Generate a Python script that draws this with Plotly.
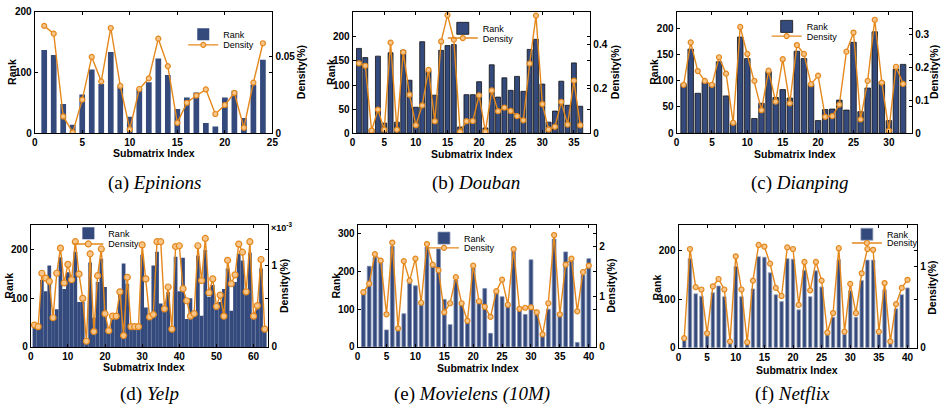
import plotly.graph_objects as go

W, H = 946, 417
BLUE = '#344a7d'
ORANGE = '#e5881c'
FONT = 'Liberation Sans, Arial, sans-serif'
SERIF = 'Liberation Serif, DejaVu Serif, serif'

# ---------------- data ----------------
epinions_rank = [137, 129, 48, 14, 64, 105, 81, 134, 76, 27, 73, 84, 123, 96, 40, 59, 67, 17, 11, 59, 70, 25, 80, 121]
epinions_density = [0.0704, 0.0653, 0.011, 0.0005, 0.022, 0.050, 0.034, 0.069, 0.031, 0.0026, 0.029, 0.036, 0.062,
                    0.044, 0.0068, 0.020, 0.0247, 0.0287, 0.0126, 0.0185, 0.0264, 0.0036, 0.0332, 0.059]

douban_rank = [176, 157, 8, 160, 21, 167, 23, 172, 110, 54, 190, 130, 79, 172, 182, 184, 13, 80, 80, 107, 11, 142,
               75, 115, 89, 118, 87, 174, 195, 102, 23, 46, 108, 58, 146, 56]
douban_density = [0.314, 0.303, 0.012, 0.106, 0.016, 0.407, 0.016, 0.364, 0.173, 0.036, 0.125, 0.284, 0.054, 0.412,
                  0.53, 0.42, 0.007, 0.054, 0.055, 0.17, 0.007, 0.192, 0.099, 0.115, 0.1, 0.077, 0.058, 0.313, 0.528,
                  0.131, 0.017, 0.029, 0.141, 0.039, 0.236, 0.036]

dianping_rank = [94, 160, 76, 98, 94, 136, 71, 20, 183, 142, 28, 57, 117, 68, 83, 67, 156, 142, 94, 24, 45, 46, 63,
                 44, 173, 41, 86, 193, 98, 24, 122, 131]
dianping_density = [0.147, 0.276, 0.189, 0.159, 0.147, 0.231, 0.181, 0.032, 0.323, 0.241, 0.159, 0.07, 0.19, 0.096,
                    0.225, 0.091, 0.268, 0.241, 0.149, 0.175, 0.05, 0.052, 0.087, 0.248, 0.306, 0.042, 0.159, 0.345,
                    0.154, 0.008, 0.202, 0.15]

yelp_rank = [41, 41, 137, 114, 167, 59, 77, 184, 119, 153, 139, 195, 92, 92, 10, 173, 60, 133, 181, 123, 35, 59, 59,
             113, 171, 129, 41, 41, 41, 189, 81, 57, 167, 195, 89, 77, 112, 35, 185, 114, 183, 57, 100, 64, 187, 64,
             199, 103, 127, 77, 92, 119, 161, 74, 133, 191, 177, 112, 193, 57, 77, 161, 35]
yelp_density = [0.00027, 0.00025, 0.00091, 0.00085, 0.00081, 0.00036, 0.00091, 0.00122, 0.00079, 0.00102, 0.00083,
                0.00130, 0.00090, 0.00060, 0.00007, 0.00115, 0.00019, 0.00088, 0.00121, 0.00041, 0.00020, 0.00038,
                0.00038, 0.00068, 0.00014, 0.00086, 0.00025, 0.00025, 0.00025, 0.00126, 0.00084, 0.00037, 0.00040,
                0.00130, 0.00130, 0.00047, 0.00074, 0.00022, 0.00124, 0.00125, 0.00072, 0.00057, 0.00038, 0.00041,
                0.00125, 0.00082, 0.00134, 0.00067, 0.00084, 0.00050, 0.00064, 0.00038, 0.00107, 0.00078, 0.00089,
                0.00127, 0.00117, 0.00068, 0.00130, 0.00038, 0.00051, 0.00108, 0.00022]

movielens_rank = [140, 214, 238, 234, 45, 267, 47, 88, 169, 162, 115, 265, 212, 260, 126, 59, 178, 114, 68, 210, 118,
                  155, 36, 143, 133, 109, 253, 100, 86, 231, 97, 29, 100, 286, 86, 252, 228, 12, 191, 234]
movielens_density = [1.09, 1.26, 1.85, 1.72, 0.65, 2.08, 0.37, 1.71, 1.32, 1.76, 0.88, 2.05, 1.64, 1.53, 0.69, 0.87,
                     1.39, 0.87, 0.52, 1.62, 0.91, 0.80, 0.60, 1.11, 1.34, 0.84, 1.95, 0.76, 0.78, 0.79, 0.69, 0.25,
                     0.87, 2.23, 0.65, 1.64, 1.76, 0.71, 1.49, 1.62]

netflix_rank = [17, 183, 111, 106, 25, 113, 127, 105, 10, 167, 105, 8, 121, 187, 186, 154, 109, 95, 183, 182, 78, 159,
                105, 158, 125, 27, 63, 181, 28, 117, 63, 138, 180, 180, 28, 119, 11, 80, 109, 123]
netflix_density = [0.12, 1.22, 0.75, 0.72, 0.18, 0.76, 0.85, 0.72, 0.08, 1.13, 0.72, 0.07, 0.83, 1.27, 1.25, 1.04,
                   0.74, 0.64, 1.24, 1.22, 0.53, 1.06, 0.71, 1.06, 0.83, 0.19, 0.43, 1.23, 0.2, 0.79, 0.43, 0.92,
                   1.22, 1.21, 0.2, 0.80, 0.08, 0.54, 0.74, 0.84]

captions = ['(a) <i>Epinions</i>', '(b) <i>Douban</i>', '(c) <i>Dianping</i>',
            '(d) <i>Yelp</i>', '(e) <i>Movielens (10M)</i>', '(f) <i>Netflix</i>']

# ---------------- panel configuration ----------------
panels = [
    dict(rank=epinions_rank, dens=epinions_density, box=(32, 272, 6, 131), xr=25, xt=[0, 5, 10, 15, 20, 25],
         yr=200, yt=[0, 100, 200], dr=0.0796, dt=[0, 0.05], dtt=['0', '0.05'], bw=0.6, edge=None, ms=5,
         leg=(224, 29, 40), cap=(153, 182), rank_lab=(9, 68), dens_lab=(301, 68), xlab=(152, 151)),
    dict(rank=douban_rank, dens=douban_density, box=(353, 593, 6, 131), xr=37.6, xt=[0, 5, 10, 15, 20, 25, 30, 35],
         yr=252, yt=[0, 50, 100, 150, 200], dr=0.545, dt=[0, 0.2, 0.4], dtt=['0', '0.2', '0.4'], bw=0.78,
         edge='#111111', ms=5, leg=(486, 23, 33), cap=(478, 182), rank_lab=(331, 68), dens_lab=(618, 68),
         xlab=(473, 152)),
    dict(rank=dianping_rank, dens=dianping_density, box=(680, 918, 6, 131), xr=33.3, xt=[0, 5, 10, 15, 20, 25, 30],
         yr=231, yt=[0, 50, 100, 150, 200], dr=0.369, dt=[0, 0.1, 0.2, 0.3], dtt=['0', '0.1', '0.2', '0.3'],
         bw=0.78, edge='#111111', ms=5, leg=(813, 21, 31), cap=(805, 182), rank_lab=(657, 68), dens_lab=(940, 68),
         xlab=(800, 152)),
    dict(rank=yelp_rank, dens=yelp_density, box=(28, 268, 226, 351), xr=64, xt=[0, 10, 20, 30, 40, 50, 60],
         yr=249, yt=[0, 100, 200], dr=0.0015, dt=[0, 0.001], dtt=['0', '1'], bw=1.0, edge=None, ms=6,
         leg=(108, 234, 245), cap=(148, 399), rank_lab=(6, 288), dens_lab=(283, 288), xlab=(142, 372)),
    dict(rank=movielens_rank, dens=movielens_density, box=(358, 599, 226, 351), xr=41.3,
         xt=[0, 5, 10, 15, 20, 25, 30, 35, 40], yr=322, yt=[0, 100, 200, 300], dr=2.42, dt=[0, 1, 2],
         dtt=['0', '1', '2'], bw=0.66, edge='#7f8db0', ms=5, leg=(467, 239, 249), cap=(473, 399),
         rank_lab=(336, 288), dens_lab=(614, 288), xlab=(480, 373)),
    dict(rank=netflix_rank, dens=netflix_density, box=(682, 923, 226, 352), xr=41.7,
         xt=[0, 5, 10, 15, 20, 25, 30, 35, 40], yr=251, yt=[0, 100, 200], dr=1.51, dt=[0, 1], dtt=['0', '1'],
         bw=0.62, edge='#9aa3b8', ms=5, leg=(894, 235, 244), cap=(797, 399), rank_lab=(660, 290),
         dens_lab=(938, 290), xlab=(802, 375)),
]

fig = go.Figure()
layout = dict(width=W, height=H, margin=dict(l=0, r=0, t=0, b=0), paper_bgcolor='white', plot_bgcolor='white',
              showlegend=True, annotations=[], font=dict(family=FONT, size=10, color='black'))

tickfont = dict(family=FONT, size=10, color='black', weight='bold')
labfont = dict(family=FONT, size=10.5, color='black', weight='bold')
legfont = dict(family=FONT, size=9, color='black')

for k, p in enumerate(panels, start=1):
    x0, x1, y0, y1 = p['box']
    n = len(p['rank'])
    idx = list(range(1, n + 1))
    xa = f'x{k}'
    ya = f'y{k}'
    yb = f'y{k + 6}'
    lg_rank = 'legend' if k == 1 else f'legend{2 * k - 1}'
    lg_dens = f'legend{2 * k}'
    bar_line = dict(width=0) if p['edge'] is None else dict(color=p['edge'], width=0.8)
    fig.add_trace(go.Bar(x=idx, y=p['rank'], width=p['bw'], marker=dict(color=BLUE, line=bar_line),
                         name='Rank', xaxis=xa, yaxis=ya, legend=lg_rank))
    fig.add_trace(go.Scatter(x=idx, y=p['dens'], mode='lines+markers', name='Density', xaxis=xa, yaxis=yb,
                             line=dict(color=ORANGE, width=1.4),
                             marker=dict(symbol='circle', size=p['ms'], color='#f6c58a',
                                         line=dict(color=ORANGE, width=1.2)),
                             legend=lg_dens))
    xd = [x0 / W, x1 / W]
    yd = [1 - y1 / H, 1 - y0 / H]
    layout[f'xaxis{k}'] = dict(domain=xd, anchor=ya, range=[0, p['xr']], tickvals=p['xt'], ticks='inside',
                               ticklen=3, tickcolor='black', showline=True, linecolor='black', linewidth=1,
                               mirror='ticks', showgrid=False, zeroline=False, tickfont=tickfont)
    layout[f'yaxis{k}'] = dict(domain=yd, anchor=xa, range=[0, p['yr']], tickvals=p['yt'], ticks='inside',
                               ticklen=3, tickcolor='black', showline=True, linecolor='black', linewidth=1,
                               mirror='ticks', showgrid=False, zeroline=False, tickfont=tickfont)
    layout[f'yaxis{k + 6}'] = dict(domain=yd, anchor=xa, overlaying=ya, side='right', range=[0, p['dr']],
                                   tickvals=p['dt'], ticktext=p['dtt'], ticks='inside', ticklen=3,
                                   tickcolor='black', showline=True, linecolor='black', linewidth=1,
                                   showgrid=False, zeroline=False, tickfont=tickfont)
    tx, ry_rank, ry_dens = p['leg']
    for lg, yy in ((lg_rank, ry_rank), (lg_dens, ry_dens)):
        layout[lg] = dict(x=(tx - 42) / W, y=1 - yy / H, xanchor='left', yanchor='middle',
                          bgcolor='rgba(0,0,0,0)', borderwidth=0, itemwidth=30, tracegroupgap=0,
                          font=legfont)
    ann = layout['annotations']
    cx, cy = p['cap']
    ann.append(dict(text=captions[k - 1], x=cx / W, y=1 - cy / H, xref='paper', yref='paper', showarrow=False,
                    xanchor='center', yanchor='middle', font=dict(family=SERIF, size=19, color='black')))
    rx, ry = p['rank_lab']
    ann.append(dict(text='Rank', x=rx / W, y=1 - ry / H, xref='paper', yref='paper', showarrow=False,
                    textangle=-90, xanchor='center', yanchor='middle', font=labfont))
    dx, dy = p['dens_lab']
    ann.append(dict(text='Density(%)', x=dx / W, y=1 - dy / H, xref='paper', yref='paper', showarrow=False,
                    textangle=-90, xanchor='center', yanchor='middle', font=labfont))
    sx, sy = p['xlab']
    ann.append(dict(text='Submatrix Index', x=sx / W, y=1 - sy / H, xref='paper', yref='paper', showarrow=False,
                    xanchor='center', yanchor='middle', font=labfont))

# exponent label for Yelp density axis
layout['annotations'].append(dict(text='×10<sup>-3</sup>', x=269 / W, y=1 - 228 / H, xref='paper', yref='paper',
                                  showarrow=False, xanchor='left', yanchor='middle',
                                  font=dict(family=FONT, size=9, color='black', weight='bold')))

fig.update_layout(**layout)
fig.write_html('out.html')
